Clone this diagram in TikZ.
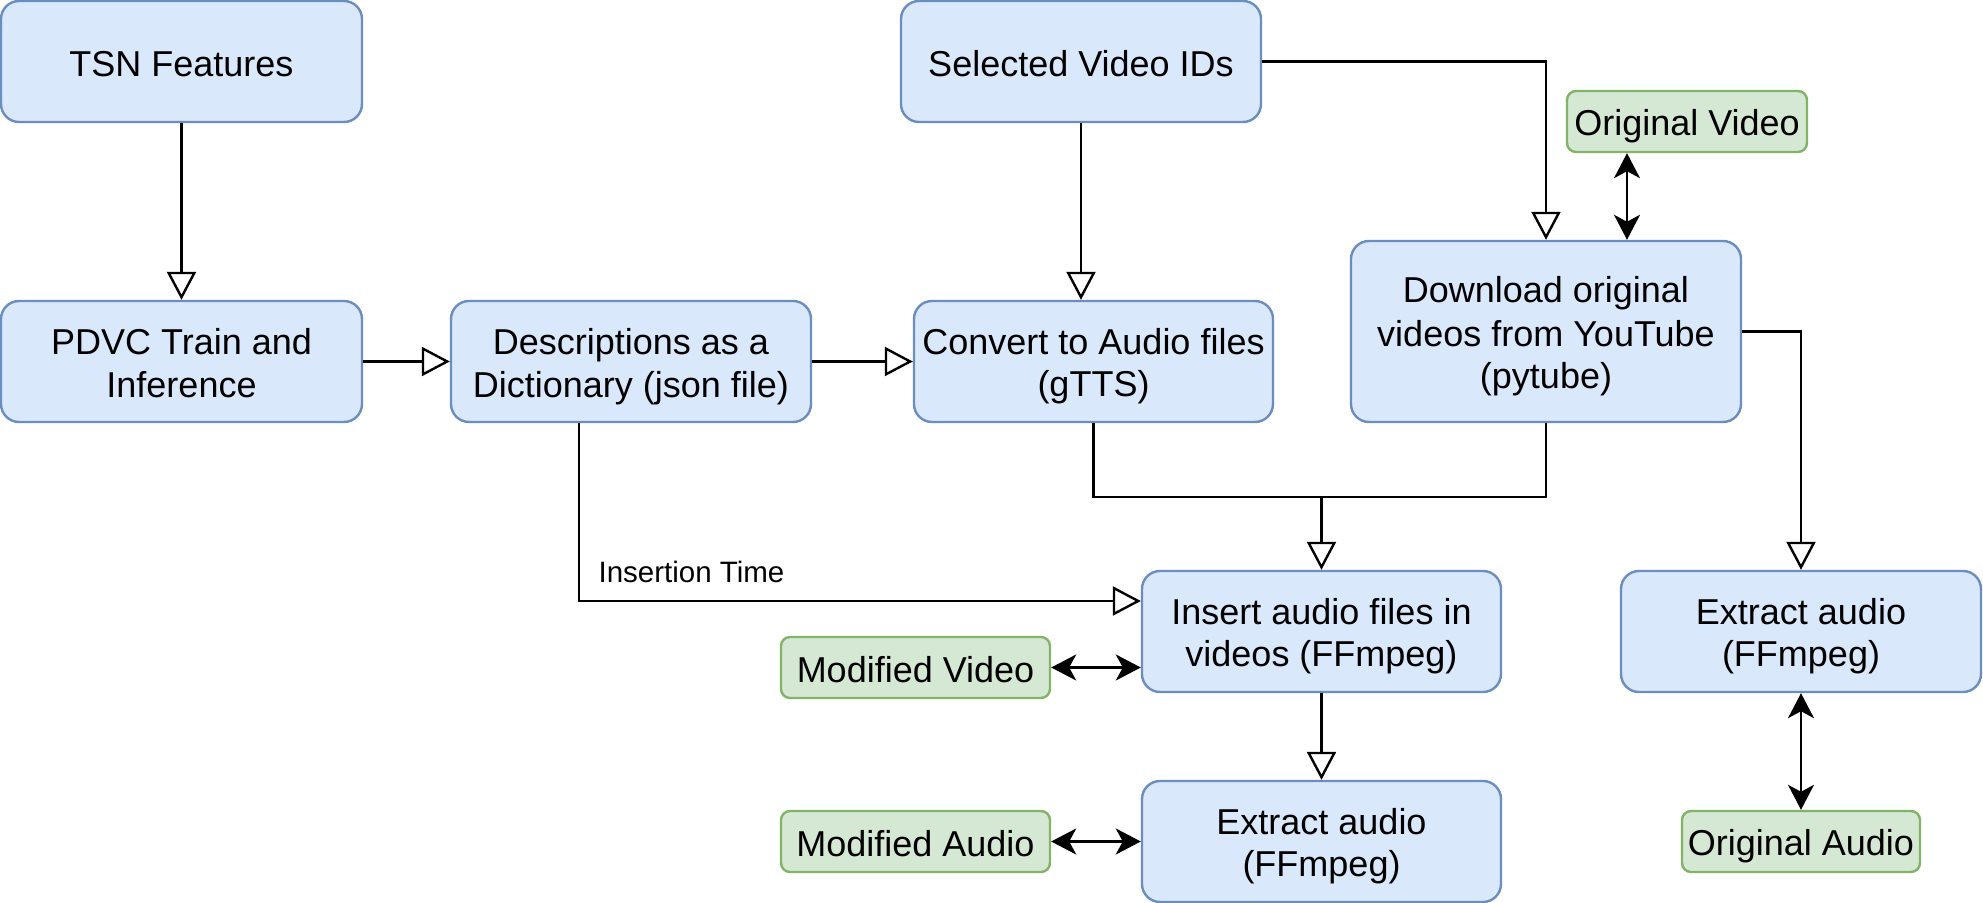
\documentclass[tikz,border=0pt]{standalone}
\usepackage{fontspec}
\setmainfont{Liberation Sans}
\usetikzlibrary{arrows.meta,calc}
\definecolor{bluefl}{HTML}{DAE8FC}
\definecolor{bluebd}{HTML}{6C8EBF}
\definecolor{greenfl}{HTML}{D5E8D4}
\definecolor{greenbd}{HTML}{82B366}
\newcommand\boxfont{\fontsize{18}{21.1}\selectfont\setbox\strutbox\hbox{\vrule height 17.85pt depth 3.25pt width 0pt}}
\newcommand\ml[1]{\begin{tabular}{@{}c@{}}#1\end{tabular}}
\begin{document}
\begin{tikzpicture}[x=0.5pt,y=-0.5pt,
  bbox/.style={draw=bluebd, fill=bluefl, line width=1.2pt, rounded corners=9pt, inner sep=2pt, font=\boxfont, text=black},
  gbox/.style={draw=greenbd, fill=greenfl, line width=1.2pt, rounded corners=4.5pt, inner sep=2pt, font=\boxfont, text=black},
  lbl/.style={inner sep=0pt, font=\fontsize{14.75}{17}\selectfont, text=black},
  oa/.style={line width=1.2pt, -{Triangle[open, length=14pt, width=14.5pt]}},
  da/.style={line width=1.2pt, {Stealth[length=12.5pt, width=13pt, inset=3.5pt]}-{Stealth[length=12.5pt, width=13pt, inset=3.5pt]}},
  ln/.style={line width=1.2pt}]
\useasboundingbox (0,0) rectangle (1983,903);

\node[bbox, minimum width=180.5pt, minimum height=60.5pt] (tsn) at (181.5,61.5) {\ml{TSN Features}};
\node[bbox, minimum width=180.5pt, minimum height=60.5pt] (pdvc) at (181.5,361.5) {\ml{PDVC Train and\\Inference}};
\node[bbox, minimum width=180pt, minimum height=60.5pt] (desc) at (631,361.5) {\ml{Descriptions as a\\Dictionary (json file)}};
\node[bbox, minimum width=179.5pt, minimum height=60.5pt] (conv) at (1093.5,361.5) {\ml{Convert to Audio files\\(gTTS)}};
\node[bbox, minimum width=180pt, minimum height=60.5pt] (sel) at (1081,61.5) {\ml{Selected Video IDs}};
\node[gbox, minimum width=120pt, minimum height=30.5pt] (origv) at (1687,121.5) {\ml{Original Video}};
\node[bbox, minimum width=195pt, minimum height=90.5pt] (down) at (1546,331.5) {\ml{Download original\\videos from YouTube\\(pytube)}};
\node[bbox, minimum width=179.5pt, minimum height=60.5pt] (ins) at (1321.5,631.5) {\ml{Insert audio files in\\videos (FFmpeg)}};
\node[bbox, minimum width=180pt, minimum height=60.5pt] (extr) at (1801,631.5) {\ml{Extract audio\\(FFmpeg)}};
\node[gbox, minimum width=134.5pt, minimum height=30.5pt] (modv) at (915.5,667.5) {\ml{Modified Video}};
\node[bbox, minimum width=179.5pt, minimum height=60.5pt] (extb) at (1321.5,841.5) {\ml{Extract audio\\(FFmpeg)}};
\node[gbox, minimum width=134.5pt, minimum height=30.5pt] (moda) at (915.5,841.5) {\ml{Modified Audio}};
\node[gbox, minimum width=119pt, minimum height=30.5pt] (origa) at (1801,841.5) {\ml{Original Audio}};
\node[lbl] (it) at (691.5,572) {Insertion Time};

\coordinate (cx) at (579,0);
\coordinate (cy) at (0,601);
\coordinate (cv) at (1627,0);
\coordinate (j) at (1321.5,497);

\draw[oa] (tsn) -- (pdvc);
\draw[oa] (pdvc) -- (desc);
\draw[oa] (desc) -- (conv);
\draw[oa] (sel.south) -- (sel.south |- conv.north);
\draw[oa] (sel.east) -| (down.north);
\draw[da] (origv.south -| cv) -- (down.north -| cv);
\draw[oa] (down.east) -| (extr.north);
\draw[ln] (conv.south) |- (j) -| (down.south);
\draw[oa] (j) -- (ins.north);
\draw[oa] (desc.south -| cx) |- (ins.west |- cy);
\draw[da] (modv.east) -- (modv.east -| ins.west);
\draw[oa] (ins) -- (extb);
\draw[da] (moda) -- (extb);
\draw[da] (extr) -- (origa);
\end{tikzpicture}
\end{document}
